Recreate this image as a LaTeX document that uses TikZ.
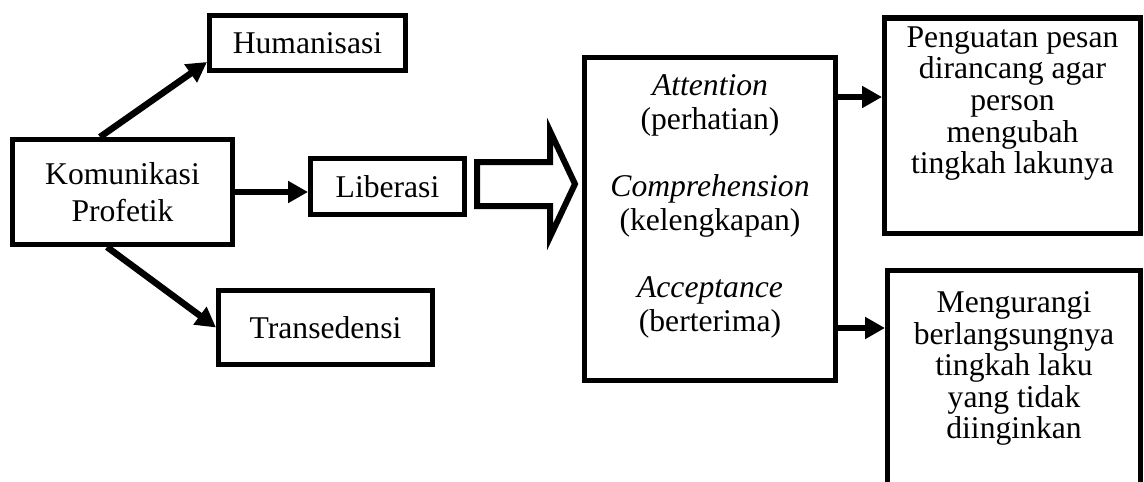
\documentclass[tikz,border=0pt]{standalone}
\usepackage{fontspec}
\setmainfont{Liberation Serif}
\usetikzlibrary{arrows.meta, positioning}

\begin{document}
\begin{tikzpicture}
    % --- Styles ---
    \tikzstyle{box}=[draw, line width=0.1cm, align=center, inner sep=0pt, font=\fontsize{18}{21}\selectfont]
    \tikzstyle{tallbox}=[box, anchor=north, font=\fontsize{18}{18}\selectfont]
    \tikzstyle{arr}=[line width=0.13cm, -{Triangle[length=0.4cm, width=0.42cm]}]

    \useasboundingbox (0,0) rectangle (22.88,-9.64);
    \clip (0,0) rectangle (22.88,-9.64);

    % --- 1. Komunikasi Profetik and its three branches ---
    \node[box, minimum width=4.4cm, minimum height=2.1cm] (kom) at (2.45,-3.84) {Komunikasi\\Profetik};
    \node[box, minimum width=3.92cm, minimum height=1.1cm] (hum) at (6.15,-0.86) {Humanisasi};
    \node[box, minimum width=3.08cm, minimum height=1.12cm] (lib) at (7.75,-3.73) {Liberasi};
    \node[box, minimum width=4.28cm, minimum height=1.48cm] (tra) at (6.51,-6.55) {Transedensi};

    \draw[arr] ([xshift=-0.45cm]kom.north) -- ([yshift=-0.38cm]hum.west);
    \draw[arr] (kom.east) -- (kom.east -| lib.west);
    \draw[arr] ([xshift=-0.31cm]kom.south) -- (tra.west);

    % --- 2. Hollow block arrow ---
    \draw[line width=0.12cm] (9.54,-3.24) -- (11.0,-3.24) -- (11.0,-2.62) -- (11.5,-3.68)
        -- (11.0,-4.74) -- (11.0,-4.12) -- (9.54,-4.12) -- cycle;

    % --- 3. Attention / Comprehension / Acceptance ---
    \node[tallbox, minimum width=5.02cm, inner ysep=0.35cm, font=\fontsize{18}{19.3}\selectfont] (aca) at (14.2,-1.09)
        {\textit{Attention}\\(perhatian)\\[0.66cm]\textit{Comprehension}\\(kelengkapan)\\[0.66cm]\textit{Acceptance}\\(berterima)\rule[-0.64cm]{0pt}{0pt}};

    % --- 4. Outcomes ---
    \node[tallbox, minimum width=5.12cm, inner ysep=0.17cm] (out1) at (20.25,-0.31)
        {Penguatan pesan\\dirancang agar\\person\\mengubah\\tingkah lakunya\rule[-1.02cm]{0pt}{0pt}};
    \node[tallbox, minimum width=5.06cm, inner ysep=0.43cm] (out2) at (20.28,-5.35)
        {Mengurangi\\berlangsungnya\\tingkah laku\\yang tidak\\diinginkan\rule[-1.5cm]{0pt}{0pt}};

    \draw[arr] ([yshift=-0.85cm]aca.north east) -- ([yshift=-0.85cm]aca.north east -| out1.west);
    \draw[arr] ([yshift=-5.47cm]aca.north east) -- ([yshift=-5.47cm]aca.north east -| out2.west);

\end{tikzpicture}
\end{document}
